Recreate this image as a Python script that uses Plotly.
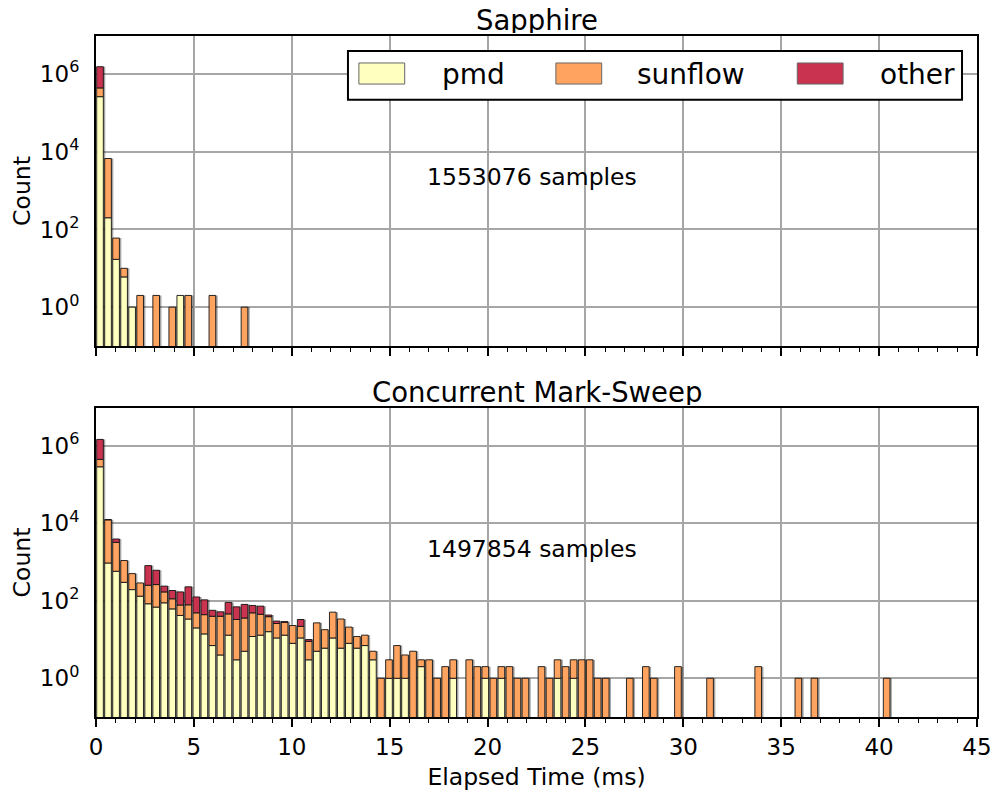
import plotly.graph_objects as go
from plotly.subplots import make_subplots

# Histogram of elapsed time per sample, bins of ~0.41 ms starting at 0.
BIN_WIDTH = 0.41

SERIES = ["pmd", "sunflow", "other"]
COLORS = {"pmd": "#ffffc0", "sunflow": "#ffa460", "other": "#c9334f"}

# Sapphire: counts per bin (index = bin number)
SAPPHIRE_SAMPLES = 1553076
SAPPHIRE_PMD = [262000, 200, 17, 6, 1, 0, 0, 0, 0, 0, 2]
SAPPHIRE_SUNFLOW = [178000, 6500, 43, 4, 0, 2, 0, 2, 0, 1,
                    0, 2, 0, 0, 2, 0, 0, 0, 1]
SAPPHIRE_OTHER = [1106300]

# Concurrent Mark-Sweep: counts per bin
CMS_SAMPLES = 1497854
CMS_PMD = [290000, 950, 580, 300, 195, 132, 84, 69, 89, 62,
           42, 34, 20, 14, 7, 4, 13, 3, 5, 12,
           13, 16, 11, 13, 8, 11, 3, 5, 6, 11,
           6, 8, 6, 7, 3, 0, 1, 1, 1, 0,
           2, 0, 0, 0, 1, 0, 0, 0, 1, 0,
           1, 0, 0, 0, 0, 0, 0, 1, 0, 1]
CMS_SUNFLOW = [160000, 11450, 2660, 800, 310, 158, 169, 194, 81, 51,
               36, 45, 29, 30, 33, 36, 33, 30, 31, 37,
               32, 23, 15, 15, 15, 11, 6, 22, 12, 40,
               28, 13, 6, 6, 2, 1, 2, 6, 3, 5,
               1, 3, 1, 2, 2, 0, 3, 2, 1, 1,
               1, 2, 1, 1, 0, 2, 1, 2, 2, 2,
               3, 3, 1, 1, 0, 0, 1, 0, 2, 1,
               0, 0, 2, 0, 0, 0, 1, 0, 0, 0,
               0, 0, 2, 0, 0, 0, 0, 1, 0, 1,
               0, 0, 0, 0, 0, 0, 0, 0, 1]
CMS_OTHER = [1026000, 100, 720, 0, 0, 0, 560, 354, 70, 72,
             92, 151, 77, 62, 17, 12, 45, 37, 45, 27,
             28, 4, 4, 1, 0, 11, 1]

N_BINS = 99
FONT = "DejaVu Sans"


def pad(values):
    return list(values) + [0] * (N_BINS - len(values))


def add_panel(fig, row, pmd, sunflow, other):
    pmd, sunflow, other = pad(pmd), pad(sunflow), pad(other)
    x = [(i + 0.5) * BIN_WIDTH for i in range(N_BINS)]
    total = [a + b + c for a, b, c in zip(pmd, sunflow, other)]
    bar_w = 0.34

    # Drop shadow behind each stacked column.
    fig.add_trace(go.Bar(
        x=x, y=[t if t else None for t in total],
        width=bar_w, offset=-bar_w / 2 + 0.1,
        marker_color="rgba(0,0,0,0.35)", marker_line_width=0,
        showlegend=False, hoverinfo="skip",
    ), row=row, col=1)

    bases = [
        [0] * N_BINS,
        pmd,
        [a + b for a, b in zip(pmd, sunflow)],
    ]
    for name, vals, base in zip(SERIES, [pmd, sunflow, other], bases):
        fig.add_trace(go.Bar(
            x=x, y=[v if v else None for v in vals], base=base,
            width=bar_w, name=name,
            marker_color=COLORS[name],
            marker_line_color="rgba(20,20,20,0.9)", marker_line_width=1,
            showlegend=False,
        ), row=row, col=1)


fig = make_subplots(rows=2, cols=1)
add_panel(fig, 1, SAPPHIRE_PMD, SAPPHIRE_SUNFLOW, SAPPHIRE_OTHER)
add_panel(fig, 2, CMS_PMD, CMS_SUNFLOW, CMS_OTHER)

xaxis_style = dict(
    range=[0, 45], dtick=5, tick0=0, automargin=False,
    ticks="outside", ticklen=8, tickwidth=1.5, tickcolor="black",
    minor=dict(dtick=1, ticks="outside", ticklen=4, tickwidth=1,
               tickcolor="black", showgrid=False),
    showgrid=True, gridcolor="#a6a6a6", gridwidth=1.5,
    showline=True, linecolor="black", linewidth=2, mirror=True,
    zeroline=False, tickfont=dict(size=23, color="black"),
)
yaxis_style = dict(
    type="log", range=[-1, 6.98], automargin=False,
    tickvals=[1, 1e2, 1e4, 1e6],
    ticktext=["10<sup>0</sup>", "10<sup>2</sup>", "10<sup>4</sup>", "10<sup>6</sup>"],
    ticks="outside", ticklen=10, tickcolor="rgba(0,0,0,0)",
    showgrid=True, gridcolor="#a6a6a6", gridwidth=1.5,
    showline=True, linecolor="black", linewidth=2, mirror=True,
    zeroline=False, tickfont=dict(size=23, color="black"),
    title=dict(text="Count", font=dict(size=23.5, color="black"), standoff=12),
)

fig.update_xaxes(**xaxis_style)
fig.update_xaxes(showticklabels=False, row=1, col=1)
fig.update_xaxes(title=dict(text="Elapsed Time (ms)", font=dict(size=23.5, color="black"),
                            standoff=10), row=2, col=1)
fig.update_yaxes(**yaxis_style)
fig.update_layout(
    xaxis=dict(domain=[0, 1]), yaxis=dict(domain=[0.5448, 1]),
    xaxis2=dict(domain=[0, 1], matches="x"), yaxis2=dict(domain=[0, 0.4537]),
)

annotations = []
for yref, xref, title, n in [("y domain", "x domain", "Sapphire", SAPPHIRE_SAMPLES),
                             ("y2 domain", "x2 domain", "Concurrent Mark-Sweep", CMS_SAMPLES)]:
    annotations.append(dict(
        x=0.5, y=1, xref=xref, yref=yref, xanchor="center", yanchor="bottom",
        yshift=1, height=27, valign="middle",
        text=title, showarrow=False, font=dict(size=27.5, color="black"),
    ))
    annotations.append(dict(
        x=0.495, y=0.545, xref=xref, yref=yref, xanchor="center", yanchor="middle",
        text=f"{n} samples", showarrow=False, font=dict(size=23.5, color="black"),
    ))

# Legend drawn as a framed box in the top panel.
shapes = [dict(type="rect", xref="x domain", yref="y domain",
               x0=0.286, x1=0.983, y0=0.794, y1=0.952,
               line=dict(color="black", width=2), fillcolor="white", layer="above")]
swatch_x = [0.2984, 0.522, 0.796]
label_x = [0.391, 0.612, 0.888]
for name, sx, lx in zip(SERIES, swatch_x, label_x):
    shapes.append(dict(type="rect", xref="x domain", yref="y domain",
                       x0=sx, x1=sx + 0.052, y0=0.845, y1=0.913,
                       line=dict(color="#666666", width=1),
                       fillcolor=COLORS[name], layer="above"))
    annotations.append(dict(
        x=lx, y=0.877, xref="x domain", yref="y domain", xanchor="left",
        yanchor="middle", text=name, showarrow=False,
        font=dict(size=28, color="black"),
    ))

# The page adds an 8 px body margin, so the figure is sized to fit the window.
fig.update_layout(
    barmode="overlay",
    width=992, height=786,
    margin=dict(l=88, r=23, t=28, b=77),
    plot_bgcolor="white", paper_bgcolor="white",
    font=dict(family=FONT, color="black"),
    showlegend=False,
    annotations=annotations,
    shapes=shapes,
)

fig.write_html("out.html")
